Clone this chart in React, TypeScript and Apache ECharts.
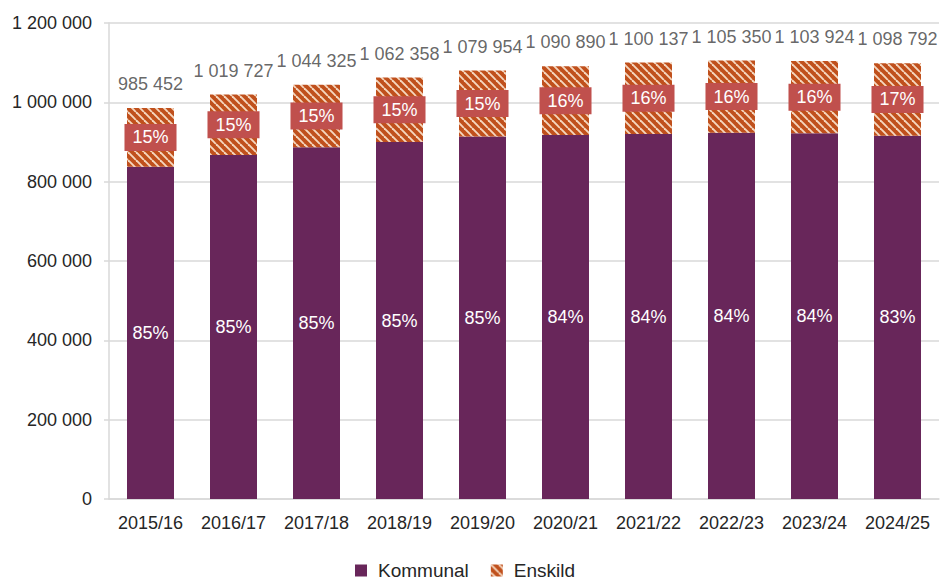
import React, { useEffect, useRef } from "react";
import * as echarts from "echarts";

const categories = ["2015/16", "2016/17", "2017/18", "2018/19", "2019/20", "2020/21", "2021/22", "2022/23", "2023/24", "2024/25"];
const kommunal = [837700, 867227, 886639, 899858, 913654, 917590, 920168, 923450, 922324, 915882];
const enskild = [147752, 152500, 157686, 162500, 166300, 173300, 179969, 181900, 181600, 182910];
const yTicks = [0, 200000, 400000, 600000, 800000, 1000000, 1200000];

const fmt = (v: number) => String(Math.round(v)).replace(/\B(?=(\d{3})+(?!\d))/g, " ");
const FONT = "'Liberation Sans', Arial, sans-serif";

function makePattern(): string {
  const c = document.createElement("canvas");
  c.width = 8;
  c.height = 8;
  const ctx = c.getContext("2d")!;
  ctx.fillStyle = "#C0501C";
  ctx.fillRect(0, 0, 8, 8);
  ctx.strokeStyle = "rgba(248,222,200,0.95)";
  ctx.lineWidth = 1.9;
  for (const o of [-8, 0, 8]) {
    ctx.beginPath();
    ctx.moveTo(o, 0);
    ctx.lineTo(o + 8, 8);
    ctx.stroke();
  }
  return c.toDataURL();
}

export default function App() {
  const ref = useRef<HTMLDivElement>(null);
  useEffect(() => {
    if (!ref.current) return;
    const chart = echarts.init(ref.current, undefined, { renderer: "svg" });
    const totals = kommunal.map((k, i) => k + enskild[i]);
    const pattern = { image: makePattern(), repeat: "repeat" } as any;
    chart.setOption({
      animation: false,
      textStyle: { fontFamily: FONT },
      grid: { left: 109, right: 3, top: 23, bottom: 82 },
      legend: {
        top: 556,
        left: 350,
        icon: "rect",
        itemWidth: 12,
        itemHeight: 12,
        itemGap: 22,
        textStyle: { fontSize: 19, color: "#262626", fontFamily: FONT, padding: [0, 0, 0, 6] },
        data: ["Kommunal", "Enskild"],
      },
      xAxis: {
        type: "category",
        data: categories,
        axisLine: { lineStyle: { color: "#d9d9d9", width: 1.5 } },
        axisTick: { show: false },
        axisLabel: { fontSize: 18, color: "#262626", margin: 15, interval: 0, fontFamily: FONT },
      },
      yAxis: {
        type: "value",
        min: yTicks[0],
        max: yTicks[yTicks.length - 1],
        interval: yTicks[1] - yTicks[0],
        axisLine: { show: true, lineStyle: { color: "#d9d9d9", width: 1.5 } },
        axisTick: { show: true, length: 5, lineStyle: { color: "#d9d9d9", width: 1.5 } },
        splitLine: { lineStyle: { color: "#d9d9d9", width: 1.5 } },
        axisLabel: { fontSize: 18, color: "#262626", margin: 17, formatter: (v: number) => fmt(v), fontFamily: FONT },
      },
      series: [
        {
          name: "Kommunal",
          type: "bar",
          stack: "t",
          barWidth: 47,
          data: kommunal,
          itemStyle: { color: "#68265A" },
          label: {
            show: true,
            position: "inside",
            color: "#fff",
            fontSize: 18,
            fontFamily: FONT,
            formatter: (p: any) => Math.round((p.value / totals[p.dataIndex]) * 100) + "%",
          },
        },
        {
          name: "Enskild",
          type: "bar",
          stack: "t",
          barWidth: 47,
          data: enskild,
          itemStyle: { color: pattern },
          label: {
            show: true,
            position: "inside",
            color: "#fff",
            fontSize: 18,
            fontFamily: FONT,
            backgroundColor: "#C0504D",
            padding: [5, 8, 3, 8],
            lineHeight: 19,
            formatter: (p: any) => Math.round((p.value / totals[p.dataIndex]) * 100) + "%",
          },
        },
        {
          name: "Total",
          type: "scatter",
          symbolSize: 0,
          data: totals,
          silent: true,
          label: {
            show: true,
            position: "top",
            distance: 15,
            color: "#404040",
            fontSize: 18,
            fontFamily: FONT,
            formatter: (p: any) => fmt(p.value),
          },
        },
      ],
    });
    return () => chart.dispose();
  }, []);
  return <div ref={ref} style={{ width: 942, height: 581, position: "absolute", left: 0, top: 0 }} />;
}
